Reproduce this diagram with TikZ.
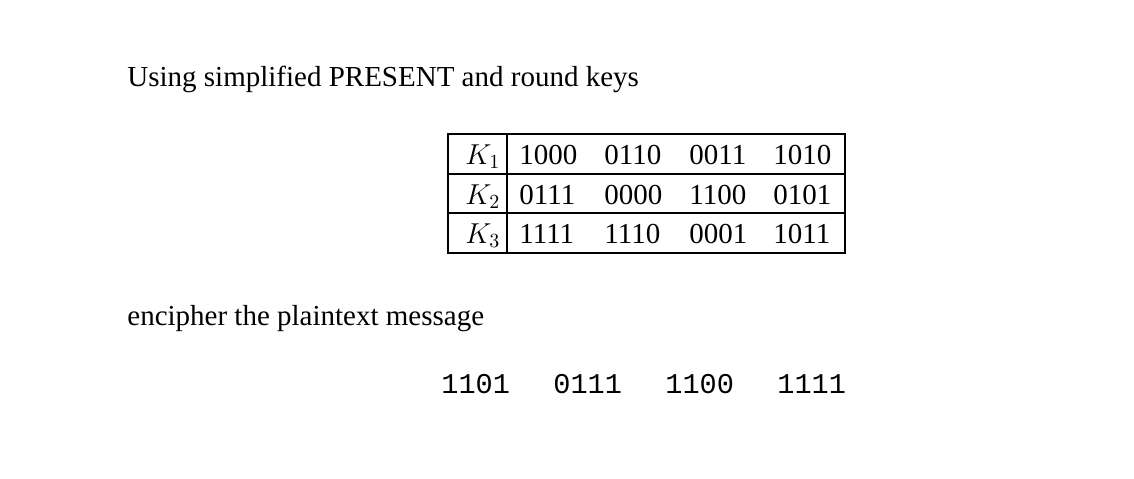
\documentclass[tikz,border=0pt]{standalone}
\usepackage{fontspec}
\setmainfont{Liberation Serif}
\setmonofont{Liberation Mono}
\begin{document}
\begin{tikzpicture}[x=0.5pt,y=-0.5pt,
  txt/.style={anchor=base west,inner sep=0pt,font=\fontsize{14.5pt}{17pt}\selectfont},
  mono/.style={anchor=base west,inner sep=0pt,font=\fontsize{14.3pt}{17pt}\selectfont\ttfamily}]
\useasboundingbox (0,0) rectangle (1134,478);
\node[txt] (t1) at (127,86) {Using simplified PRESENT and round keys};
\node[txt] (t2) at (127,325) {encipher the plaintext message};
\draw[line width=0.8pt] (448,134) rectangle (845,253);
\draw[line width=0.8pt] (448,174) -- (845,174) (448,213) -- (845,213) (507,134) -- (507,253);
\foreach \k/\y/\a/\b/\c/\d in {1/164/1000/0110/0011/1010, 2/204/0111/0000/1100/0101, 3/243/1111/1110/0001/1011}{
  \node[txt] (k\k) at (465,\y) {$K_{\k}$};
  \node[txt] (a\k) at (519,\y) {\a};
  \node[txt] (b\k) at (604,\y) {\b};
  \node[txt] (c\k) at (689,\y) {\c};
  \node[txt] (d\k) at (773,\y) {\d};
}
\node[mono] (m1) at (441,393) {1101};
\node[mono] (m2) at (553,393) {0111};
\node[mono] (m3) at (665,393) {1100};
\node[mono] (m4) at (777,393) {1111};
\end{tikzpicture}
\end{document}
